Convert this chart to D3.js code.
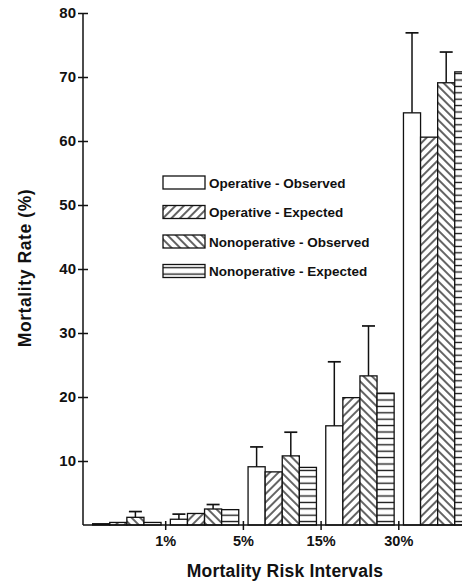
<!DOCTYPE html>
<html>
<head>
<meta charset="utf-8">
<script src="https://cdn.jsdelivr.net/npm/d3@7/dist/d3.min.js"></script>
<style>
  html, body { margin: 0; padding: 0; background: #fff; }
  svg { display: block; font-family: "Liberation Sans", Arial, sans-serif; font-weight: bold; }
</style>
</head>
<body>
<div id="chart"></div>
<script>
// Mortality rate by risk interval: observed vs expected, operative vs nonoperative.
const GROUPS = ['<1%', '1-5%', '5-15%', '15-30%', '>30%'];
const BOUNDARY_LABELS = ['1%', '5%', '15%', '30%'];
const SERIES = ['Operative - Observed', 'Operative - Expected', 'Nonoperative - Observed', 'Nonoperative - Expected'];
const SERIES_KEYS = ['opObs', 'opExp', 'nonObs', 'nonExp'];

const opObs     = [0.2, 0.9, 9.1, 15.5, 64.4];
const opObsErr  = [null, 1.7, 12.2, 25.5, 76.9];
const opExp     = [0.4, 1.8, 8.3, 19.9, 60.6];
const nonObs    = [1.2, 2.5, 10.8, 23.3, 69.1];
const nonObsErr = [2.1, 3.2, 14.5, 31.1, 73.9];
const nonExp    = [0.4, 2.4, 9.0, 20.6, 70.8];
const Y_TICKS = [10, 20, 30, 40, 50, 60, 70, 80];

const VALUES = { opObs, opExp, nonObs, nonExp };
const ERRORS = { opObs: opObsErr, nonObs: nonObsErr };

const W = 462, H = 584;
const svg = d3.select('#chart').append('svg').attr('width', W).attr('height', H);

// hatch patterns
const defs = svg.append('defs');
function hatch(id, angle, step) {
  const p = defs.append('pattern').attr('id', id)
    .attr('patternUnits', 'userSpaceOnUse')
    .attr('width', step).attr('height', step)
    .attr('patternTransform', `rotate(${angle})`);
  p.append('rect').attr('width', step).attr('height', step).attr('fill', '#fff');
  p.append('line').attr('x1', step / 2).attr('x2', step / 2).attr('y1', 0).attr('y2', step)
    .attr('stroke', '#111').attr('stroke-width', 1.3);
}
hatch('fwd', 45, 6);
hatch('back', -45, 6);
hatch('horiz', 90, 6.4);
const FILLS = { opObs: '#fff', opExp: 'url(#fwd)', nonObs: 'url(#back)', nonExp: 'url(#horiz)' };

const axisX = 83, baseY = 525;
const y = d3.scaleLinear().domain([0, 80]).range([baseY, 13]);
const x0 = d3.scaleBand().domain(GROUPS).range([88, 476.5]).paddingInner(0.12).paddingOuter(0.06);
const x1 = d3.scaleBand().domain(SERIES_KEYS).range([0, x0.bandwidth()]);

// bars
const g = svg.append('g');
GROUPS.forEach((grp, i) => {
  SERIES_KEYS.forEach((k) => {
    const v = VALUES[k][i];
    g.append('rect')
      .attr('x', x0(grp) + x1(k)).attr('width', x1.bandwidth())
      .attr('y', y(v)).attr('height', baseY - y(v))
      .attr('fill', FILLS[k]).attr('stroke', '#111').attr('stroke-width', 1.3);
    const e = ERRORS[k] ? ERRORS[k][i] : null;
    if (e != null) {
      const cx = x0(grp) + x1(k) + x1.bandwidth() / 2;
      g.append('line').attr('x1', cx).attr('x2', cx).attr('y1', y(v)).attr('y2', y(e))
        .attr('stroke', '#111').attr('stroke-width', 1.5);
      g.append('line').attr('x1', cx - 6.5).attr('x2', cx + 6.5).attr('y1', y(e)).attr('y2', y(e))
        .attr('stroke', '#111').attr('stroke-width', 1.7);
    }
  });
});

// y axis, ticks crossing the line
const yAxis = svg.append('g').attr('transform', `translate(${axisX},0)`)
  .call(d3.axisLeft(y).tickValues(Y_TICKS).tickSize(5).tickPadding(2));
yAxis.select('.domain').attr('d', `M0,${y(80)}V${baseY}`).attr('stroke', '#111').attr('stroke-width', 1.5);
yAxis.selectAll('.tick line').attr('x1', 5).attr('stroke', '#111').attr('stroke-width', 1.5);
yAxis.selectAll('.tick text').attr('font-size', 15).attr('font-weight', 'bold')
  .attr('font-family', '"Liberation Sans", Arial, sans-serif').attr('fill', '#111');

// x baseline with boundary ticks
svg.append('line').attr('x1', axisX).attr('x2', W).attr('y1', baseY).attr('y2', baseY)
  .attr('stroke', '#111').attr('stroke-width', 1.5);
const bx = (i) => x0(GROUPS[i + 1]) - x0.step() * x0.paddingInner() / 2;
BOUNDARY_LABELS.forEach((lbl, i) => {
  const xx = bx(i);
  svg.append('line').attr('x1', xx).attr('x2', xx).attr('y1', baseY - 4).attr('y2', baseY + 5)
    .attr('stroke', '#111').attr('stroke-width', 1.5);
  svg.append('text').attr('x', xx).attr('y', 546).attr('text-anchor', 'middle')
    .attr('font-size', 14.5).attr('fill', '#111').text(lbl);
});

// axis titles
svg.append('text').attr('x', 285).attr('y', 577).attr('text-anchor', 'middle')
  .attr('font-size', 17.5).attr('letter-spacing', 0.2).attr('fill', '#111').text('Mortality Risk Intervals');
svg.append('text').attr('transform', 'translate(31,268) rotate(-90)').attr('text-anchor', 'middle')
  .attr('font-size', 17.5).attr('letter-spacing', 0.6).attr('fill', '#111').text('Mortality Rate (%)');

// legend
const legend = svg.append('g').attr('transform', 'translate(163,176)');
SERIES.forEach((name, i) => {
  const row = legend.append('g').attr('transform', `translate(0,${i * 29.5})`);
  row.append('rect').attr('width', 42).attr('height', 13)
    .attr('fill', FILLS[SERIES_KEYS[i]]).attr('stroke', '#111').attr('stroke-width', 1.3);
  row.append('text').attr('x', 46).attr('y', 11.5).attr('font-size', 13.5).attr('fill', '#111').text(name);
});
</script>
</body>
</html>
